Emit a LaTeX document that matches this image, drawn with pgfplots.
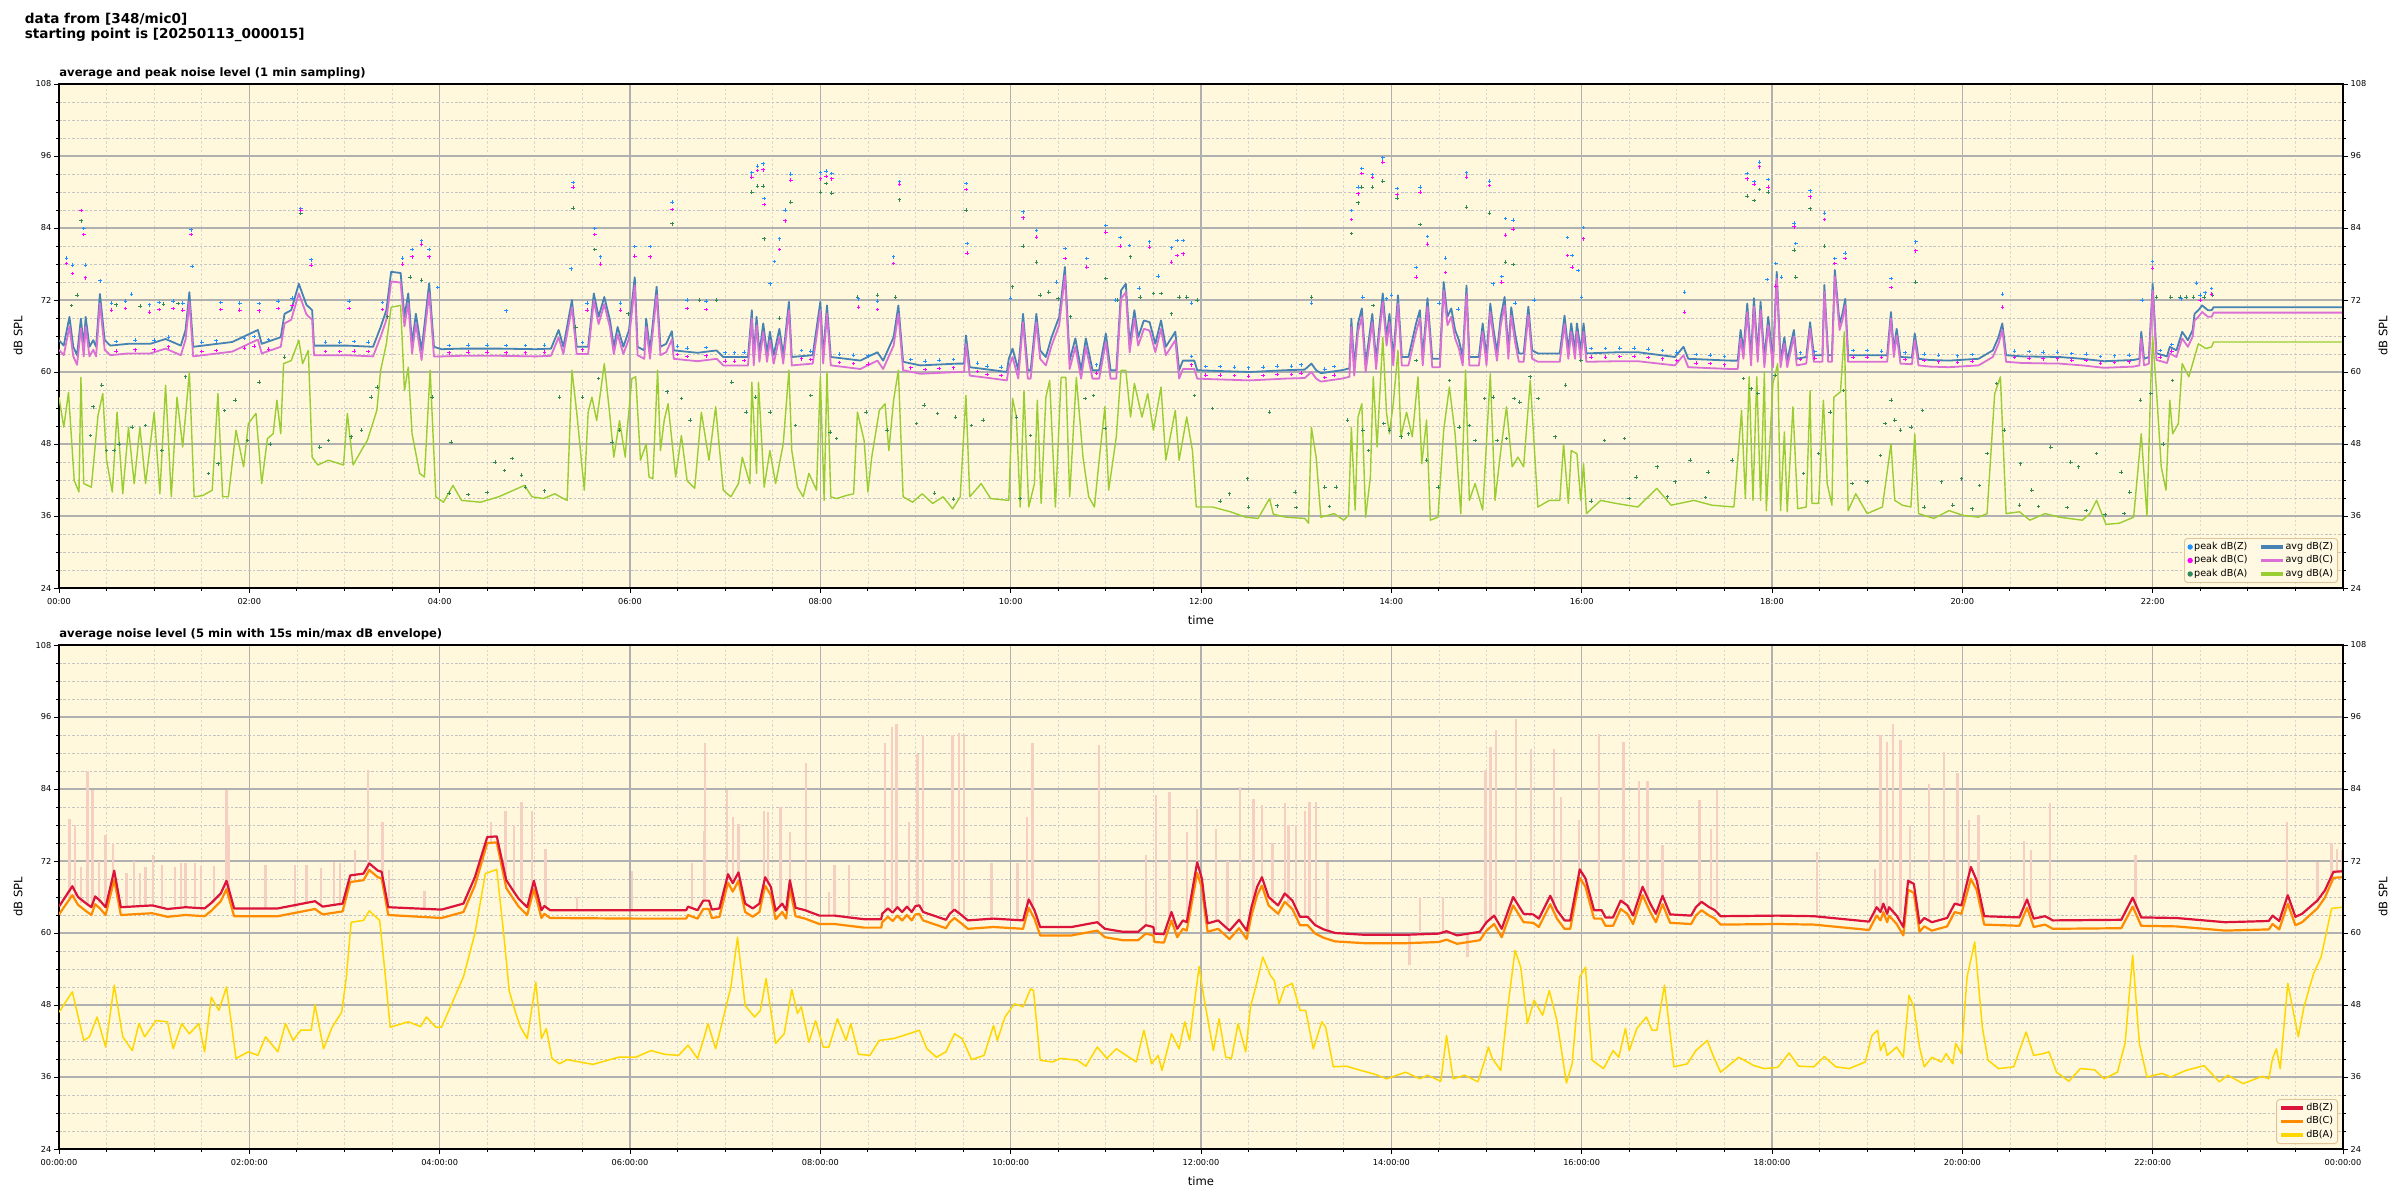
\documentclass[border=0pt]{standalone}
\usepackage{fontspec}
\setmainfont{DejaVu Sans}
\usepackage{pgfplots}
\usepackage{pgfplotstable}
\pgfplotsset{compat=1.18}
\definecolor{bgc}{HTML}{FFF8DC}
\definecolor{gridmaj}{HTML}{B0B0B0}
\definecolor{gridmin}{HTML}{C4C4C4}
\definecolor{gridminx}{HTML}{D8D8D0}
\definecolor{pz}{HTML}{1E90FF}
\definecolor{pc}{HTML}{FF00FF}
\definecolor{pa}{HTML}{2E8B57}
\definecolor{az}{HTML}{4682B4}
\definecolor{ac}{HTML}{DA70D6}
\definecolor{aa}{HTML}{9ACD32}
\definecolor{bz}{HTML}{DC143C}
\definecolor{bc}{HTML}{FF8C00}
\definecolor{ba}{HTML}{FFD700}
\definecolor{envc}{RGB}{245,208,194}
\definecolor{legedge}{RGB}{222,196,150}
\definecolor{legfill}{RGB}{255,248,226}

% ---------- top panel: 1 min averages ----------
\pgfplotstableread{
t Z C
0.00 65.3 63.7
0.05 64.4 62.8
0.11 69.2 67.6
0.15 64.2 62.6
0.19 62.8 61.2
0.23 68.9 67.3
0.26 64.2 62.6
0.28 69.2 67.6
0.32 64.2 62.6
0.36 65.3 63.7
0.39 64.2 62.6
0.43 73.0 71.4
0.48 65.3 63.7
0.54 64.4 62.8
0.73 64.7 63.1
0.96 64.7 63.1
1.12 65.5 63.9
1.28 64.4 62.8
1.33 67.0 65.4
1.37 73.3 71.7
1.41 64.2 62.6
1.82 65.0 63.4
2.09 67.0 65.4
2.13 64.7 63.1
2.33 65.8 64.2
2.37 69.7 68.1
2.44 70.3 68.7
2.52 74.7 73.1
2.60 71.2 69.6
2.66 70.3 68.7
2.68 64.4 62.8
3.03 64.4 62.8
3.30 64.2 62.6
3.38 67.5 65.9
3.44 70.3 68.7
3.49 76.7 75.1
3.59 76.5 74.9
3.63 69.2 67.6
3.67 73.1 71.5
3.71 64.7 63.1
3.75 69.7 68.1
3.81 63.6 62.0
3.89 74.8 73.2
3.94 64.2 62.6
4.02 63.8 62.6
4.23 63.9 62.7
4.62 63.9 62.7
5.01 63.8 62.6
5.17 63.9 62.7
5.25 67.0 65.8
5.30 64.2 63.0
5.39 72.0 70.8
5.44 64.2 63.0
5.56 64.2 63.0
5.62 73.1 71.9
5.67 69.2 68.0
5.73 72.5 71.3
5.79 68.6 67.4
5.83 64.2 63.0
5.87 67.5 66.3
5.93 64.2 63.0
5.99 67.0 65.6
6.05 75.8 74.4
6.08 64.2 62.8
6.15 63.6 62.2
6.17 68.9 67.5
6.21 63.6 62.2
6.28 74.2 72.8
6.32 64.2 62.8
6.38 64.7 63.3
6.44 66.8 65.4
6.46 63.6 62.2
6.71 63.2 61.8
6.91 63.6 62.2
6.98 62.5 61.1
7.24 62.5 61.1
7.28 70.3 68.9
7.30 62.5 61.1
7.33 69.2 67.8
7.36 63.1 61.7
7.40 68.1 66.7
7.44 63.1 61.7
7.47 66.7 65.3
7.51 62.8 61.4
7.57 67.2 65.8
7.61 62.8 61.4
7.67 71.7 70.3
7.70 62.5 61.1
7.92 62.8 61.4
8.00 71.7 70.3
8.03 62.8 61.4
8.07 71.1 69.7
8.11 62.5 61.1
8.27 62.2 60.8
8.42 61.9 60.5
8.60 63.3 61.9
8.66 61.9 60.5
8.77 65.8 64.4
8.82 71.1 69.7
8.87 61.7 60.3
9.05 61.1 59.7
9.44 61.4 60.0
9.51 61.4 60.0
9.53 66.1 64.7
9.57 60.8 59.4
9.82 60.3 58.9
9.96 60.0 58.6
9.98 62.2 60.8
10.02 63.9 62.5
10.08 60.3 58.9
10.13 69.7 68.3
10.18 60.3 58.9
10.21 60.3 58.9
10.27 69.7 68.3
10.31 63.6 62.2
10.37 62.5 61.1
10.43 65.8 64.4
10.51 69.2 67.8
10.57 77.5 76.1
10.62 61.9 60.5
10.68 65.6 64.2
10.74 60.3 58.9
10.79 65.6 64.2
10.86 60.3 58.9
10.93 60.3 58.9
11.00 66.4 65.0
11.05 60.3 58.9
11.11 60.3 58.9
11.16 73.6 72.2
11.21 74.7 73.3
11.25 64.7 63.3
11.30 70.3 68.9
11.34 65.8 64.4
11.40 68.6 67.2
11.46 68.3 66.9
11.52 64.7 63.3
11.58 68.6 67.2
11.63 64.2 62.8
11.73 66.7 65.3
11.77 60.3 58.9
11.81 61.9 60.5
11.93 61.9 60.5
11.96 60.3 58.9
12.12 60.2 58.8
12.51 60.0 58.6
12.89 60.3 58.9
13.09 60.4 59.0
13.16 61.4 60.0
13.21 60.3 58.9
13.26 59.8 58.4
13.48 60.3 58.9
13.56 60.6 59.2
13.58 68.9 67.5
13.61 60.8 59.4
13.65 68.1 66.7
13.69 70.6 69.2
13.73 61.4 60.0
13.80 69.7 68.3
13.84 61.9 60.5
13.87 67.0 65.6
13.91 73.1 71.7
13.95 65.8 64.4
13.98 69.7 68.3
14.02 62.5 61.1
14.07 72.8 71.4
14.11 62.5 61.1
14.18 62.5 61.1
14.26 68.1 66.7
14.30 70.3 68.9
14.33 62.5 61.1
14.38 72.3 70.9
14.43 62.2 60.8
14.51 62.2 60.8
14.55 75.0 73.6
14.59 69.2 67.8
14.63 70.6 69.2
14.67 67.0 65.6
14.71 65.3 63.9
14.75 62.5 61.1
14.79 74.4 73.0
14.82 62.5 61.1
14.92 62.5 61.1
14.96 68.1 66.7
15.00 62.5 61.1
15.04 71.4 70.0
15.07 67.5 66.1
15.11 63.3 61.9
15.15 69.2 67.8
15.19 72.5 71.1
15.23 63.6 62.2
15.26 70.8 69.4
15.30 66.4 65.0
15.34 63.1 61.7
15.39 63.1 61.7
15.44 70.9 69.5
15.48 63.6 62.2
15.54 63.1 61.7
15.77 63.1 61.7
15.82 69.4 68.0
15.86 63.6 62.2
15.89 68.1 66.7
15.93 63.6 62.2
15.95 68.1 66.7
15.99 63.6 62.2
16.02 68.1 66.7
16.05 63.1 61.7
16.40 63.3 61.8
16.59 63.3 61.8
16.98 62.5 61.1
17.07 64.2 62.8
17.12 62.2 60.8
17.56 61.9 60.5
17.64 61.9 60.5
17.67 67.0 65.6
17.70 63.6 62.2
17.74 71.4 70.0
17.78 62.5 61.1
17.81 72.3 70.9
17.85 63.1 61.7
17.88 71.7 70.3
17.92 62.2 60.8
17.96 69.2 67.8
18.01 61.9 60.8
18.05 76.7 75.6
18.09 61.9 60.8
18.13 65.8 64.7
18.16 61.9 60.8
18.23 67.0 65.9
18.26 62.2 61.1
18.36 62.5 61.4
18.40 68.3 67.2
18.44 62.8 61.7
18.53 62.8 61.7
18.55 74.5 73.4
18.59 62.8 61.7
18.63 62.8 61.7
18.66 77.0 75.9
18.71 68.1 67.0
18.74 69.7 68.6
18.77 72.2 71.1
18.80 62.8 61.7
19.08 62.8 61.7
19.21 62.8 61.7
19.25 70.0 68.9
19.28 63.6 62.5
19.31 67.2 66.1
19.35 62.5 61.4
19.47 62.4 61.3
19.50 66.4 65.3
19.54 62.2 61.1
19.66 62.0 60.9
19.86 61.9 60.8
20.17 62.2 61.1
20.32 63.6 62.5
20.38 65.8 64.7
20.42 68.1 67.0
20.46 62.8 61.7
20.63 62.6 61.5
21.02 62.5 61.4
21.26 62.2 61.1
21.49 61.8 60.7
21.80 62.0 60.9
21.86 62.2 61.1
21.88 66.7 65.6
21.91 62.2 61.1
21.96 62.5 61.4
22.00 74.7 73.6
22.04 63.1 62.0
22.11 62.8 61.7
22.15 62.6 61.5
22.18 64.2 63.1
22.25 63.6 62.5
22.31 66.7 65.6
22.37 65.3 64.2
22.42 67.0 65.9
22.44 69.7 68.6
22.48 70.3 69.2
22.52 71.1 70.0
22.58 70.3 69.2
22.62 70.3 69.2
22.64 70.8 69.9
24.00 70.8 69.9
}\topZC

\pgfplotstableread{
t A
0.00 55.8
0.05 50.8
0.10 56.6
0.16 41.9
0.21 40.0
0.23 59.1
0.26 41.4
0.34 40.8
0.41 52.8
0.46 56.4
0.50 45.3
0.56 40.0
0.61 53.3
0.67 39.7
0.73 50.8
0.79 41.4
0.85 50.8
0.91 41.4
1.00 53.3
1.06 39.7
1.12 57.8
1.18 39.2
1.24 55.8
1.30 47.5
1.37 60.0
1.42 39.2
1.51 39.4
1.61 40.3
1.67 56.4
1.72 39.2
1.78 39.2
1.86 50.3
1.94 44.2
1.99 51.4
2.07 53.1
2.13 41.4
2.19 48.9
2.25 49.7
2.29 55.3
2.33 49.7
2.36 61.4
2.44 61.9
2.52 65.3
2.56 61.4
2.62 63.6
2.66 45.8
2.72 44.5
2.83 45.3
2.99 44.5
3.03 53.1
3.09 44.5
3.18 47.0
3.24 48.6
3.34 53.6
3.38 60.3
3.44 64.7
3.49 70.8
3.59 71.1
3.63 56.9
3.67 60.8
3.71 49.7
3.79 43.1
3.84 42.5
3.90 60.3
3.96 39.2
4.04 38.3
4.14 41.1
4.23 38.6
4.43 38.3
4.62 39.2
4.82 40.6
4.89 41.1
4.97 39.2
5.09 38.9
5.21 39.7
5.30 38.9
5.34 38.6
5.39 60.3
5.44 53.3
5.52 40.3
5.56 53.3
5.60 55.8
5.65 51.9
5.73 61.4
5.79 52.5
5.83 45.8
5.89 51.9
5.95 45.8
5.97 50.3
6.02 58.9
6.06 59.2
6.11 45.3
6.17 48.0
6.20 42.5
6.24 42.2
6.29 60.3
6.32 46.9
6.36 52.0
6.40 54.7
6.48 42.5
6.54 49.4
6.60 41.9
6.68 40.6
6.75 53.3
6.83 45.3
6.90 54.2
6.98 40.3
7.06 39.2
7.14 41.4
7.18 45.8
7.26 41.4
7.28 58.3
7.33 43.1
7.35 58.3
7.41 40.8
7.47 46.9
7.53 41.4
7.61 48.0
7.67 60.3
7.70 46.9
7.76 40.8
7.82 39.2
7.88 43.1
7.96 40.3
8.00 59.2
8.04 38.6
8.07 60.0
8.11 39.2
8.17 38.9
8.27 39.4
8.35 39.7
8.39 53.3
8.46 48.6
8.50 40.0
8.54 45.8
8.62 53.6
8.68 54.7
8.72 46.9
8.77 55.3
8.82 60.3
8.87 39.2
8.97 38.3
9.07 39.7
9.18 38.1
9.29 39.2
9.39 37.2
9.47 39.2
9.53 56.1
9.57 39.2
9.69 41.4
9.79 38.9
9.98 38.6
10.02 55.6
10.06 52.5
10.10 37.5
10.14 56.9
10.19 37.5
10.25 41.4
10.28 55.3
10.32 38.1
10.37 55.8
10.41 58.6
10.47 37.5
10.53 59.1
10.58 59.1
10.62 39.2
10.69 59.1
10.76 45.8
10.82 39.2
10.88 37.5
10.93 45.3
10.99 54.2
11.03 40.3
11.11 49.2
11.16 60.3
11.21 60.3
11.26 52.5
11.30 58.1
11.38 52.5
11.44 56.4
11.50 50.3
11.58 57.5
11.63 45.3
11.73 53.6
11.77 45.3
11.85 52.5
11.91 46.9
11.95 37.5
12.12 37.5
12.31 36.7
12.47 35.8
12.60 35.6
12.72 38.9
12.76 36.3
12.89 35.8
13.09 35.6
13.13 34.8
13.16 50.8
13.21 45.8
13.23 41.7
13.26 35.8
13.40 36.4
13.50 35.3
13.55 36.1
13.58 50.8
13.62 37.0
13.65 52.5
13.69 54.7
13.73 35.8
13.78 42.5
13.81 59.2
13.85 47.5
13.91 65.8
13.95 53.1
13.98 49.7
14.02 54.7
14.07 63.6
14.10 49.2
14.16 53.3
14.22 49.2
14.28 59.2
14.32 44.7
14.37 52.0
14.41 35.3
14.49 35.8
14.55 50.3
14.61 57.5
14.67 49.7
14.73 36.4
14.78 60.3
14.82 38.6
14.88 41.4
14.96 37.0
15.04 59.7
15.09 38.6
15.15 46.9
15.21 54.2
15.27 44.2
15.33 45.8
15.39 44.2
15.46 58.6
15.54 37.5
15.66 38.6
15.77 38.6
15.81 48.0
15.86 38.1
15.89 46.9
15.95 46.4
15.99 38.6
16.02 44.7
16.05 36.4
16.20 38.6
16.36 38.1
16.59 37.5
16.79 40.6
16.94 37.8
17.18 38.6
17.37 37.8
17.60 37.5
17.63 43.3
17.68 53.6
17.72 38.9
17.76 59.2
17.80 38.6
17.84 59.2
17.88 38.6
17.92 60.0
17.94 36.9
18.01 58.1
18.06 61.4
18.09 36.9
18.13 50.0
18.16 36.7
18.22 54.2
18.27 37.2
18.36 37.5
18.40 56.9
18.42 38.1
18.49 38.1
18.54 55.3
18.58 41.4
18.63 37.8
18.65 55.8
18.72 56.7
18.76 66.7
18.80 36.9
18.88 39.7
19.00 36.4
19.16 37.5
19.25 48.0
19.29 38.6
19.37 37.8
19.46 37.5
19.50 49.7
19.54 36.4
19.70 35.6
19.86 36.9
20.01 36.1
20.17 35.8
20.26 36.4
20.34 56.4
20.40 59.2
20.46 36.4
20.60 36.7
20.71 35.3
20.87 36.4
21.02 35.8
21.26 35.3
21.34 36.4
21.41 38.6
21.51 34.6
21.65 34.8
21.80 35.8
21.88 49.7
21.94 36.0
21.98 58.1
22.00 65.8
22.04 56.9
22.09 44.2
22.14 40.3
22.18 55.3
22.21 49.7
22.27 51.4
22.31 61.4
22.38 59.2
22.44 62.5
22.48 64.7
22.56 63.9
22.62 64.2
22.64 65.0
24.00 65.0
}\topA

% ---------- top panel: 1 min peaks ----------
\pgfplotstableread{
t v
0.08 79.0
0.14 77.8
0.23 86.9
0.26 83.9
0.28 77.8
0.43 75.2
0.55 71.5
0.70 71.8
0.76 73.0
0.95 71.2
1.05 71.6
1.20 71.8
1.30 71.5
1.39 83.7
1.40 77.6
1.70 71.6
1.90 71.5
2.10 71.4
2.30 71.8
2.45 72.3
2.54 87.2
2.65 78.7
3.05 71.8
3.40 71.6
3.61 79.0
3.71 80.4
3.81 81.9
3.89 80.4
3.98 74.1
4.70 70.2
5.38 77.2
5.40 91.6
5.55 71.5
5.63 83.9
5.69 79.2
5.90 71.5
0.60 65.1
0.80 65.3
1.00 65.3
1.15 65.8
1.50 65.0
1.65 65.2
1.95 65.6
2.05 65.9
2.20 65.4
2.80 65.0
2.95 65.0
3.10 65.1
3.25 65.0
4.10 64.4
4.30 64.5
4.50 64.5
4.70 64.4
4.90 64.4
5.10 64.5
5.50 64.9
6.05 80.9
6.21 80.9
6.44 88.3
6.60 72.0
6.80 71.8
7.28 93.2
7.34 94.3
7.40 94.7
7.41 88.9
7.47 74.7
7.52 78.4
7.57 82.2
7.63 87.0
7.69 93.0
8.00 93.2
8.06 93.5
8.12 93.1
8.40 72.2
8.60 71.8
8.77 79.2
8.83 91.7
9.53 91.4
9.54 81.4
10.00 72.3
10.13 86.7
10.27 83.6
10.48 75.0
10.57 80.6
10.80 78.9
11.00 84.4
11.10 72.0
11.15 82.4
11.25 81.1
11.35 74.0
11.46 81.7
11.55 76.0
11.69 80.7
11.75 81.9
11.81 81.9
11.90 71.5
6.50 64.3
6.60 64.0
6.80 64.1
7.00 63.2
7.10 63.2
7.20 63.3
7.80 63.6
7.90 63.5
8.20 63.0
8.35 62.8
8.50 62.7
8.95 62.1
9.10 61.8
9.25 62.0
9.40 62.1
9.65 61.5
9.75 61.0
9.90 60.8
10.90 61.2
11.90 62.6
13.16 71.5
13.58 86.9
13.65 90.8
13.69 93.9
13.70 72.5
13.80 92.9
13.91 95.7
13.95 72.2
14.00 72.8
14.06 90.6
14.26 77.4
14.30 90.8
14.38 82.6
14.50 71.5
14.57 79.0
14.70 70.5
14.79 93.2
15.03 91.8
15.07 74.7
15.16 75.9
15.20 85.6
15.28 85.3
15.30 71.5
15.50 72.0
15.85 82.4
15.90 79.4
15.96 76.9
16.00 72.5
16.02 84.1
17.08 73.3
17.74 93.1
17.81 91.7
17.87 95.0
17.95 75.4
17.96 92.1
12.05 60.9
12.20 60.9
12.35 60.8
12.50 60.7
12.65 60.8
12.80 61.0
12.95 61.0
13.05 61.2
13.30 60.5
13.40 60.9
16.10 63.9
16.25 63.9
16.40 64.0
16.55 64.0
16.70 63.8
16.85 63.6
17.00 63.3
17.20 62.9
17.35 62.8
17.50 62.6
18.04 78.1
18.10 75.8
18.23 84.8
18.25 81.4
18.40 90.2
18.55 86.5
18.66 78.9
18.77 79.8
19.25 75.6
19.51 81.7
20.42 73.0
21.89 72.0
22.00 78.4
22.30 72.2
22.46 74.8
22.50 72.8
22.55 73.2
22.62 73.9
18.30 63.2
18.45 63.4
18.85 63.6
19.00 63.6
19.15 63.5
19.40 63.2
19.60 63.0
19.75 62.8
19.95 62.7
20.10 62.9
20.55 63.5
20.70 63.4
20.85 63.3
21.00 63.3
21.15 63.1
21.30 63.0
21.45 62.6
21.60 62.7
21.75 62.8
22.08 63.6
22.20 64.6
}\pZ

\pgfplotstableread{
t v
0.08 78.1
0.14 76.4
0.23 86.9
0.26 82.9
0.28 75.7
0.55 70.3
0.70 70.6
0.95 70.0
1.05 70.4
1.20 70.6
1.30 70.3
1.39 82.9
1.70 70.4
1.90 70.3
2.10 70.2
2.30 70.6
2.45 71.1
2.54 87.0
2.65 77.8
3.05 70.6
3.40 70.4
3.61 78.0
3.71 79.2
3.81 81.3
3.89 79.2
5.40 90.8
5.55 70.3
5.63 82.9
5.69 78.0
5.90 70.3
0.60 63.5
0.80 63.7
1.00 63.7
1.15 64.2
1.50 63.4
1.65 63.6
1.95 64.0
2.05 64.3
2.20 63.8
2.80 63.4
2.95 63.4
3.10 63.5
3.25 63.4
4.10 63.2
4.30 63.3
4.50 63.3
4.70 63.2
4.90 63.2
5.10 63.3
5.50 63.7
6.05 79.3
6.21 79.2
6.44 87.1
6.60 70.6
6.80 70.4
7.28 92.5
7.34 93.6
7.40 93.7
7.41 87.9
7.57 80.4
7.63 85.2
7.69 92.0
8.00 92.2
8.06 92.6
8.12 92.2
8.40 70.8
8.60 70.4
8.77 78.1
8.83 91.3
9.53 90.4
9.54 79.8
10.13 85.7
10.27 82.5
10.57 78.9
10.80 77.5
11.00 83.3
11.15 81.0
11.46 80.8
11.69 78.3
11.75 79.4
11.81 79.7
6.50 62.9
6.60 62.6
6.80 62.7
7.00 61.8
7.10 61.8
7.20 61.9
7.80 62.2
7.90 62.1
8.20 61.6
8.35 61.4
8.50 61.3
8.95 60.7
9.10 60.4
9.25 60.6
9.40 60.7
9.65 60.1
9.75 59.6
9.90 59.4
10.90 59.8
11.90 61.2
13.58 85.4
13.65 89.7
13.69 93.1
13.80 92.4
13.91 95.0
14.06 89.6
14.26 75.8
14.30 90.0
14.38 81.3
14.57 76.6
14.79 92.5
15.03 91.1
15.16 75.0
15.20 82.8
15.28 83.8
15.85 79.4
15.90 77.5
16.02 82.2
17.08 70.0
17.74 92.2
17.81 91.3
17.87 94.2
17.96 90.8
12.05 59.5
12.20 59.5
12.35 59.4
12.50 59.3
12.65 59.4
12.80 59.6
12.95 59.6
13.05 59.8
13.30 59.1
13.40 59.5
16.10 62.5
16.25 62.5
16.40 62.6
16.55 62.6
16.70 62.4
16.85 62.2
17.00 61.9
17.20 61.5
17.35 61.4
17.50 61.2
18.04 74.3
18.23 84.2
18.40 89.2
18.55 85.4
18.66 78.1
18.77 78.9
19.25 74.1
19.51 80.2
20.42 70.8
22.00 77.3
22.50 72.0
22.62 73.0
18.30 62.1
18.45 62.3
18.85 62.5
19.00 62.5
19.15 62.4
19.40 62.1
19.60 61.9
19.75 61.7
19.95 61.6
20.10 61.8
20.55 62.4
20.70 62.3
20.85 62.2
21.00 62.2
21.15 62.0
21.30 61.9
21.45 61.5
21.60 61.6
21.75 61.7
22.08 62.5
22.20 63.5
}\pC

\pgfplotstableread{
t v
0.13 71.1
0.19 72.8
0.23 85.2
0.33 49.4
0.36 54.2
0.45 57.8
0.50 46.9
0.58 46.9
0.60 71.2
0.63 48.0
0.77 50.8
0.85 71.0
0.91 51.1
1.08 46.9
1.10 71.3
1.25 71.4
1.33 59.2
1.57 43.1
1.67 44.7
1.74 53.6
1.85 55.3
1.98 48.6
2.10 58.3
2.22 48.0
2.37 62.5
2.54 86.4
2.74 47.5
2.83 48.6
3.07 49.2
3.18 50.3
3.28 55.8
3.34 57.5
3.45 69.2
3.69 75.8
3.81 75.3
3.92 55.8
4.10 39.8
4.12 48.3
4.30 39.6
4.50 39.9
4.58 45.0
4.68 43.6
4.76 45.6
4.86 42.8
4.90 40.8
5.10 40.2
5.26 55.8
5.40 87.3
5.43 67.5
5.50 55.8
5.63 80.4
5.67 58.9
5.81 48.3
5.89 50.3
5.98 69.7
6.39 56.7
6.44 84.7
6.54 55.6
6.63 52.0
6.73 72.0
6.91 72.0
7.07 58.3
7.22 53.3
7.28 90.0
7.32 55.8
7.34 91.0
7.40 91.0
7.41 82.2
7.47 53.3
7.57 69.0
7.69 88.3
7.74 51.1
7.90 56.1
8.00 90.0
8.06 91.4
8.10 50.0
8.12 89.8
8.17 48.9
8.39 72.5
8.48 53.3
8.60 72.8
8.70 50.3
8.79 72.5
8.83 88.7
9.01 51.4
9.09 54.5
9.20 39.8
9.23 53.1
9.40 38.8
9.42 52.5
9.53 87.0
9.59 51.1
9.71 52.0
10.02 74.2
10.06 52.5
10.10 38.9
10.13 81.0
10.21 49.4
10.27 78.3
10.31 72.8
10.40 73.3
10.50 72.2
10.63 69.2
10.78 55.6
10.87 56.1
10.99 50.6
11.00 75.6
11.12 72.0
11.26 79.2
11.36 72.5
11.50 73.1
11.58 73.1
11.69 69.7
11.77 72.5
11.85 72.5
11.93 56.1
11.96 72.0
12.12 53.9
12.20 38.5
12.30 39.7
12.49 42.2
12.50 37.5
12.72 53.3
12.80 37.7
12.99 40.0
13.00 37.4
13.16 72.5
13.30 40.8
13.35 37.6
13.42 40.8
13.54 52.0
13.58 83.1
13.65 88.2
13.69 90.8
13.70 50.3
13.76 46.9
13.80 90.8
13.81 71.1
13.91 91.8
13.92 51.4
13.98 50.3
14.06 89.0
14.10 49.2
14.18 49.7
14.26 61.9
14.30 84.6
14.37 45.3
14.49 40.8
14.61 58.6
14.71 50.8
14.79 87.5
14.82 51.1
14.88 48.6
14.98 55.6
15.03 86.5
15.07 55.8
15.11 48.6
15.20 78.3
15.21 48.9
15.28 77.9
15.29 55.6
15.35 55.0
15.46 59.2
15.54 55.6
15.72 49.2
15.83 57.8
15.99 61.9
16.10 38.5
16.24 48.6
16.45 48.9
16.50 38.9
16.57 42.5
16.79 44.2
16.90 39.2
16.98 41.7
17.14 45.3
17.30 39.1
17.33 43.3
17.58 45.3
17.70 58.9
17.74 89.3
17.78 57.2
17.81 88.6
17.85 56.4
17.87 90.4
17.96 90.0
18.03 59.4
18.23 80.3
18.25 75.8
18.33 43.1
18.40 87.2
18.49 46.4
18.55 81.0
18.61 53.3
18.75 56.9
18.84 41.4
19.00 41.7
19.14 46.1
19.19 51.4
19.25 55.3
19.29 52.0
19.35 50.3
19.46 50.8
19.51 75.0
19.58 53.6
19.60 37.5
19.78 41.7
19.90 37.8
19.99 42.2
20.10 37.2
20.18 41.1
20.26 46.4
20.36 58.1
20.44 50.3
20.60 37.8
20.61 44.7
20.73 40.3
20.80 37.6
20.93 47.5
21.10 37.4
21.14 45.0
21.22 44.2
21.30 36.9
21.41 46.4
21.50 36.2
21.67 43.3
21.70 36.4
21.76 40.0
21.87 55.3
21.98 56.4
22.04 72.5
22.11 48.0
22.19 72.5
22.21 58.6
22.29 72.5
22.35 72.5
22.43 72.5
22.54 72.5
22.63 72.8
}\pA

% ---------- bottom panel: 5 min averages ----------
\pgfplotstableread{
t Z C
0.00 64.4 63.1
0.14 67.8 66.3
0.20 66.0 64.7
0.28 65.0 63.7
0.34 64.3 63.0
0.38 66.1 64.8
0.43 65.4 64.1
0.49 64.3 63.0
0.58 70.4 68.9
0.65 64.3 63.0
0.98 64.6 63.3
1.14 64.0 62.7
1.33 64.3 63.0
1.53 64.1 62.8
1.60 65.0 63.7
1.70 66.6 65.3
1.76 68.7 67.3
1.84 64.1 62.8
2.30 64.1 62.8
2.69 65.3 64.0
2.77 64.4 63.1
2.98 64.9 63.6
3.06 69.6 68.5
3.20 69.9 68.8
3.26 71.6 70.5
3.35 70.4 69.3
3.39 70.2 69.1
3.46 64.3 63.0
4.02 63.9 62.5
4.25 64.9 63.5
4.37 69.3 67.9
4.50 76.0 75.0
4.60 76.1 75.1
4.70 68.8 67.5
4.77 67.1 65.8
4.83 65.7 64.4
4.92 64.3 63.0
4.99 68.7 67.3
5.07 63.8 62.5
5.10 64.5 63.2
5.16 63.8 62.5
6.04 63.8 62.4
6.59 63.8 62.4
6.61 64.4 63.0
6.71 63.8 62.4
6.77 65.4 64.0
6.83 65.4 64.0
6.86 63.9 62.5
6.94 64.1 62.7
7.03 69.8 68.4
7.08 68.3 66.9
7.14 70.1 68.7
7.21 64.9 63.5
7.29 64.1 62.7
7.36 64.9 63.5
7.42 69.3 67.9
7.48 67.7 66.3
7.53 63.7 62.3
7.60 64.9 63.5
7.64 63.8 62.4
7.68 68.8 67.4
7.74 64.2 62.8
7.84 63.8 62.4
7.99 62.9 61.5
8.15 62.9 61.5
8.30 62.6 61.2
8.46 62.3 60.9
8.64 62.3 60.9
8.65 63.2 61.8
8.71 64.1 62.7
8.76 63.4 62.0
8.81 64.3 62.9
8.86 63.5 62.1
8.91 64.4 63.0
8.96 63.5 62.1
9.00 64.5 63.1
9.04 64.6 63.2
9.08 63.5 62.1
9.32 62.2 60.8
9.36 63.2 61.8
9.41 63.9 62.5
9.49 62.9 61.5
9.55 62.1 60.7
9.82 62.4 61.0
10.13 62.1 60.7
10.19 65.6 64.2
10.25 63.8 62.4
10.31 61.0 59.6
10.64 61.0 59.6
10.91 61.8 60.4
10.99 60.7 59.3
11.18 60.2 58.8
11.34 60.2 58.8
11.42 61.3 59.9
11.50 61.0 59.6
11.51 59.9 58.5
11.61 59.8 58.4
11.69 63.5 62.1
11.75 60.7 59.3
11.81 62.1 60.7
11.85 61.8 60.4
11.96 71.8 70.0
12.01 69.0 67.5
12.04 64.9 63.5
12.07 61.6 60.2
12.18 62.1 60.7
12.30 60.4 59.0
12.40 62.2 60.8
12.48 60.4 59.0
12.53 64.3 62.9
12.59 67.7 66.3
12.64 69.3 67.9
12.71 66.0 64.6
12.81 64.6 63.2
12.88 66.6 65.2
12.96 65.4 64.0
13.04 62.7 61.3
13.12 62.7 61.3
13.20 61.3 59.9
13.29 60.6 59.2
13.41 60.0 58.6
13.72 59.7 58.3
14.15 59.7 58.3
14.50 59.9 58.5
14.58 60.3 58.9
14.69 59.6 58.2
14.93 60.2 58.8
15.00 61.8 60.4
15.08 62.9 61.5
15.16 60.7 59.3
15.28 66.0 64.6
15.39 63.2 61.8
15.49 63.1 61.7
15.55 62.4 61.0
15.67 66.2 64.8
15.74 63.8 62.4
15.82 62.1 60.7
15.88 62.1 60.7
15.98 70.6 69.2
16.04 69.1 67.7
16.13 63.8 62.4
16.21 63.8 62.4
16.25 62.6 61.2
16.33 62.6 61.2
16.41 65.4 64.0
16.48 64.6 63.2
16.54 62.9 61.5
16.64 67.7 66.3
16.72 64.9 63.5
16.78 63.2 61.8
16.85 66.2 64.8
16.93 63.1 61.7
17.15 62.9 61.5
17.20 64.3 62.9
17.26 65.2 63.8
17.34 64.3 62.9
17.40 63.8 62.4
17.46 62.8 61.4
18.06 62.9 61.5
18.44 62.8 61.4
19.02 61.9 60.5
19.10 64.3 62.9
19.14 63.5 62.1
19.17 64.9 63.5
19.21 63.2 61.8
19.23 64.3 62.9
19.31 62.9 61.5
19.38 61.0 59.6
19.43 68.7 67.2
19.49 68.2 66.7
19.55 61.6 60.2
19.60 62.5 61.1
19.68 61.8 60.4
19.84 62.5 61.1
19.92 64.9 63.5
19.99 64.6 63.2
20.09 71.0 69.0
20.15 68.8 67.2
20.23 62.8 61.4
20.60 62.6 61.2
20.64 64.1 62.7
20.68 65.6 64.2
20.75 62.4 61.0
20.87 62.8 61.4
20.95 62.1 60.7
21.67 62.2 60.8
21.79 65.9 64.4
21.88 62.6 61.2
22.25 62.5 61.1
22.76 61.8 60.4
23.22 62.0 60.6
23.26 62.9 61.5
23.33 62.0 60.6
23.42 66.3 64.9
23.50 62.7 61.3
23.57 63.2 61.8
23.73 65.4 64.1
23.81 67.1 65.9
23.90 70.2 69.2
24.00 70.3 69.3
}\botZC

\pgfplotstableread{
t A
0.00 46.8
0.14 50.2
0.26 42.1
0.32 42.7
0.40 46.0
0.49 41.0
0.58 51.3
0.67 42.7
0.77 40.4
0.84 44.9
0.90 42.7
1.02 45.4
1.14 45.2
1.20 40.7
1.29 44.9
1.37 43.2
1.47 44.9
1.53 40.2
1.60 49.3
1.68 47.1
1.76 51.0
1.86 39.1
1.99 40.2
2.09 39.6
2.17 42.7
2.30 40.2
2.38 44.9
2.46 42.1
2.54 43.8
2.65 43.8
2.69 48.0
2.78 40.7
2.87 44.3
2.97 46.8
3.02 52.7
3.07 61.8
3.20 62.1
3.26 63.7
3.37 62.1
3.43 52.7
3.48 44.3
3.67 45.2
3.80 44.4
3.86 46.0
3.96 44.3
4.02 44.3
4.25 52.7
4.37 59.9
4.48 69.9
4.60 70.6
4.68 58.8
4.73 50.4
4.79 47.1
4.85 44.3
4.92 42.4
5.01 51.8
5.07 42.4
5.12 44.1
5.18 39.1
5.26 38.2
5.34 38.9
5.61 38.1
5.88 39.3
6.06 39.3
6.22 40.4
6.36 39.8
6.51 39.6
6.61 41.3
6.71 39.1
6.77 42.1
6.82 44.9
6.90 40.7
7.00 47.1
7.06 51.0
7.13 59.3
7.21 47.9
7.31 46.0
7.37 47.1
7.43 52.4
7.53 41.6
7.62 43.2
7.70 50.6
7.76 46.6
7.80 47.7
7.88 41.8
7.95 45.4
8.03 41.0
8.09 41.0
8.18 45.7
8.27 42.1
8.32 44.9
8.40 39.8
8.52 39.6
8.62 42.1
8.77 42.4
8.93 43.2
9.04 43.8
9.12 40.7
9.22 39.3
9.32 40.2
9.41 43.2
9.49 42.4
9.59 38.9
9.72 39.6
9.82 44.6
9.86 42.1
9.94 46.0
10.04 48.2
10.13 47.7
10.21 50.7
10.24 50.4
10.31 38.8
10.44 38.5
10.52 39.1
10.70 38.8
10.79 37.8
10.91 41.0
11.01 39.1
11.11 40.7
11.32 38.5
11.40 43.8
11.48 38.2
11.55 39.6
11.59 37.1
11.69 43.2
11.77 40.7
11.83 45.2
11.88 42.1
11.98 54.4
12.03 49.3
12.13 40.4
12.19 45.7
12.26 39.3
12.32 39.1
12.39 44.9
12.47 40.2
12.52 47.7
12.58 51.3
12.65 56.0
12.73 52.9
12.77 52.1
12.82 48.2
12.88 51.0
12.96 51.6
13.04 47.1
13.10 47.1
13.18 40.7
13.27 45.2
13.31 44.3
13.39 37.7
13.53 37.8
13.68 37.1
13.84 36.4
13.95 35.7
14.15 36.8
14.30 35.7
14.38 36.3
14.52 35.3
14.58 42.9
14.65 35.7
14.77 36.3
14.91 35.2
14.97 38.2
15.02 41.0
15.06 39.1
15.15 37.1
15.22 47.1
15.30 57.1
15.36 54.3
15.43 44.9
15.50 48.8
15.59 46.3
15.66 50.4
15.74 45.4
15.84 35.0
15.90 38.2
15.98 52.7
16.04 54.3
16.11 38.8
16.23 37.4
16.33 40.4
16.39 39.3
16.46 44.1
16.50 40.4
16.58 44.1
16.68 46.0
16.74 43.8
16.79 43.8
16.87 51.3
16.97 37.7
17.11 38.2
17.20 40.4
17.32 42.1
17.38 39.6
17.46 36.8
17.65 39.3
17.81 37.9
17.92 37.4
18.06 37.6
18.18 40.0
18.28 37.8
18.44 37.7
18.55 39.4
18.67 37.7
18.81 37.4
18.98 38.5
19.05 42.9
19.11 43.8
19.14 40.4
19.18 41.8
19.21 39.6
19.31 41.0
19.38 39.3
19.44 49.6
19.49 47.7
19.55 41.0
19.60 37.7
19.68 39.3
19.78 38.5
19.83 39.9
19.90 38.2
19.93 41.6
19.99 39.9
20.05 52.7
20.13 58.5
20.21 44.3
20.27 38.8
20.38 37.4
20.54 37.7
20.62 41.3
20.67 43.5
20.75 39.6
20.85 39.9
20.91 40.2
20.99 36.8
21.12 35.3
21.24 37.4
21.39 37.2
21.49 35.7
21.63 36.8
21.71 41.6
21.79 56.3
21.86 41.6
21.94 36.0
22.10 36.6
22.19 36.0
22.35 37.1
22.54 37.9
22.70 35.2
22.79 36.3
22.95 34.9
23.15 36.1
23.22 35.7
23.26 39.1
23.30 40.7
23.34 37.4
23.42 51.6
23.53 42.7
23.59 47.7
23.69 53.2
23.77 56.0
23.88 64.1
24.00 64.3
}\botA

% 15 s min/max envelope: time, lower end, upper end of each excursion
\pgfplotstableread{
t b p
0.11 66.0 79.0
0.17 66.0 78.0
0.23 65.0 71.0
0.30 64.5 87.0
0.35 64.5 83.8
0.42 65.0 72.0
0.49 64.5 76.3
0.57 68.0 75.0
0.71 64.5 70.0
0.79 64.5 72.0
0.85 64.5 70.0
0.91 64.5 71.0
0.99 64.5 73.0
1.08 64.5 71.3
1.22 64.5 71.0
1.28 64.5 71.6
1.33 64.5 71.6
1.43 64.5 71.6
1.49 64.5 71.2
1.63 65.0 71.2
1.76 67.0 83.8
1.78 66.0 78.0
2.17 64.2 71.3
2.48 64.2 71.3
2.60 65.0 71.4
2.75 64.5 70.8
2.89 64.5 71.8
2.95 64.5 71.6
3.11 69.0 73.8
3.25 70.0 87.1
3.40 69.0 78.5
3.47 65.0 70.5
3.84 64.0 67.0
4.54 75.0 78.5
4.69 69.0 80.4
4.78 67.0 78.0
4.86 65.5 81.8
4.97 67.0 80.4
5.11 64.5 74.0
5.44 64.0 66.0
6.02 64.0 70.4
6.65 64.0 71.6
6.78 65.5 77.0
6.79 65.5 91.6
7.02 68.0 83.8
7.08 68.5 79.3
7.14 70.0 78.2
7.41 68.0 80.4
7.45 68.0 80.2
7.58 64.5 81.0
7.68 68.5 76.8
7.85 63.8 88.3
8.09 63.0 66.8
8.15 63.0 71.3
8.30 62.6 71.3
8.68 63.5 91.6
8.75 64.0 94.3
8.80 64.0 94.8
8.93 64.0 78.5
9.02 64.5 89.9
9.08 64.0 93.0
9.39 63.8 93.0
9.46 63.5 93.3
9.51 63.0 93.2
9.80 62.5 71.6
10.07 62.3 71.6
10.17 64.0 79.3
10.23 64.0 91.7
10.93 61.8 91.3
11.42 61.3 73.0
11.53 60.5 83.0
11.67 62.0 83.5
11.85 62.0 76.8
11.96 71.0 80.7
12.16 62.0 77.4
12.28 61.0 72.0
12.41 62.0 84.3
12.55 64.0 82.4
12.64 69.0 81.3
12.75 65.0 75.0
12.88 66.0 81.6
12.92 65.0 78.0
13.00 64.0 78.0
13.09 62.7 80.4
13.14 62.7 81.8
13.21 61.3 81.8
13.33 60.5 71.8
14.19 54.6 59.7
14.30 60.0 66.0
14.54 60.2 66.0
14.80 56.0 59.6
14.99 61.5 87.1
15.04 62.0 91.0
15.10 62.5 93.9
15.31 65.0 95.7
15.47 63.0 90.6
15.71 64.0 90.6
15.78 63.5 82.7
15.97 70.0 78.9
16.18 63.8 93.1
16.44 65.0 91.8
16.60 66.0 85.4
16.69 66.0 85.4
16.85 66.0 74.6
17.24 65.0 82.2
17.36 64.0 77.4
17.42 64.0 83.9
18.47 62.8 73.5
19.08 62.5 70.7
19.14 63.5 93.0
19.21 63.5 91.8
19.27 63.0 94.9
19.35 62.5 92.1
19.45 68.0 78.0
19.65 62.0 84.9
19.81 62.5 90.2
19.95 64.5 86.6
20.07 70.0 78.8
20.17 68.0 79.6
20.65 64.0 75.4
20.72 63.0 73.8
20.92 62.5 81.6
21.82 64.0 73.0
23.41 66.0 78.5
23.73 65.0 71.8
23.88 69.0 75.0
23.94 70.0 74.0
23.99 70.0 73.8
}\envT

\pgfplotsset{
  panel/.style={
    scale only axis, width=1142pt, height=252pt, anchor=south west,
    xmin=0, xmax=24, ymin=24, ymax=108,
    ytick={24,36,...,108}, minor ytick={24,27,...,108},
    minor xtick={0,0.5,...,24},
    tick align=outside, major tick length=2.6pt, minor tick length=1.5pt,
    tick style={black, line width=0.45pt},
    /pgf/number format/assume math mode=true,
    tick label style={font=\fontsize{4.1}{5}\selectfont, black},
    yticklabel style={inner sep=1pt},
    xticklabel style={inner sep=1pt, yshift=-1.6pt},
    axis line style={black, line width=0.6pt},
    grid=both,
    major grid style={draw=gridmaj, line width=0.6pt},
    minor y grid style={draw=gridmin, line width=0.35pt, dash pattern=on 1.3pt off 0.9pt},
    minor x grid style={draw=gridminx, line width=0.35pt, dash pattern=on 1.1pt off 1.1pt},
    axis background/.style={fill=bgc},
    xtick pos=left, ytick pos=left,
    xlabel={time},
    xlabel style={at={(axis description cs:0.5,0)}, anchor=center, yshift=-16pt, font=\fontsize{5.8}{7}\selectfont},
    ylabel={dB SPL},
    ylabel style={at={([xshift=-20.5pt]axis description cs:0,0.5)}, anchor=center, rotate=0, font=\fontsize{5.8}{7}\selectfont},
    title style={at={(axis description cs:0,1)}, anchor=base west, yshift=-2pt, inner sep=0pt, font=\bfseries\fontsize{5.8}{7}\selectfont},
    legend cell align=left,
    legend style={at={(axis description cs:1,0)}, anchor=south east, xshift=-2.5pt, yshift=2.5pt,
      draw=legedge, fill=legfill, rounded corners=1.5pt, line width=0.45pt,
      font=\fontsize{4.8}{5.6}\selectfont, inner xsep=1.5pt, inner ysep=1pt,
      nodes={inner sep=0.7pt}, row sep=0.2pt},
  },
  rightside/.style={
    scale only axis, width=1142pt, height=252pt, anchor=south west,
    xmin=0, xmax=24, ymin=24, ymax=108,
    hide x axis, axis y line*=right,
    ytick={24,36,...,108}, minor ytick={24,27,...,108},
    tick align=outside, major tick length=2.6pt, minor tick length=1.5pt,
    tick style={black, line width=0.45pt},
    /pgf/number format/assume math mode=true,
    tick label style={font=\fontsize{4.1}{5}\selectfont, black},
    yticklabel style={inner sep=1pt},
    axis line style={black, line width=0.6pt},
    ylabel={dB SPL},
    ylabel style={at={([xshift=20pt]axis description cs:1,0.5)}, anchor=center, font=\fontsize{5.8}{7}\selectfont},
  },
}

\begin{document}
\begin{tikzpicture}
\path[use as bounding box] (0,0) rectangle (1200pt,600pt);
\node[anchor=base west, inner sep=0pt, font=\bfseries\fontsize{6.8}{8}\selectfont] at (12.25pt,588.3pt) {data from [348/mic0]};
\node[anchor=base west, inner sep=0pt, font=\bfseries\fontsize{6.8}{8}\selectfont] at (12.25pt,580.8pt) {starting point is [20250113\_000015]};

% ===== top panel =====
\begin{axis}[panel, at={(29.5pt,306pt)},
  title={average and peak noise level (1 min sampling)},
  xtick={0,2,...,22},
  xticklabels={00:00,02:00,04:00,06:00,08:00,10:00,12:00,14:00,16:00,18:00,20:00,22:00},
  legend columns=2,
  legend style={/tikz/every even column/.append style={column sep=5pt}}]
\addplot[forget plot, only marks, mark=+, mark size=0.9pt, color=pa, mark options={line width=0.35pt}] table[x=t,y=v] {\pA};
\addplot[forget plot, only marks, mark=+, mark size=0.9pt, color=pz, mark options={line width=0.35pt}] table[x=t,y=v] {\pZ};
\addplot[forget plot, only marks, mark=+, mark size=0.9pt, color=pc, mark options={line width=0.35pt}] table[x=t,y=v] {\pC};
\addplot[forget plot, mark=none, color=aa, line width=0.7pt, line join=round] table[x=t,y=A] {\topA};
\addplot[forget plot, mark=none, color=az, line width=0.9pt, line join=round] table[x=t,y=Z] {\topZC};
\addplot[forget plot, mark=none, color=ac, line width=0.9pt, line join=round] table[x=t,y=C] {\topZC};
\addlegendimage{legend image code/.code={\fill[pz] (5.5pt,0pt) circle (1.1pt);}}
\addlegendimage{legend image code/.code={\draw[az, line width=1.6pt] (0pt,0pt) -- (11pt,0pt);}}
\addlegendimage{legend image code/.code={\fill[pc] (5.5pt,0pt) circle (1.1pt);}}
\addlegendimage{legend image code/.code={\draw[ac, line width=1.6pt] (0pt,0pt) -- (11pt,0pt);}}
\addlegendimage{legend image code/.code={\fill[pa] (5.5pt,0pt) circle (1.1pt);}}
\addlegendimage{legend image code/.code={\draw[aa, line width=1.6pt] (0pt,0pt) -- (11pt,0pt);}}
\legend{peak dB(Z), avg dB(Z), peak dB(C), avg dB(C), peak dB(A), avg dB(A)}
\end{axis}
\begin{axis}[rightside, at={(29.5pt,306pt)}]
\addplot[draw=none, mark=none] coordinates {(0,24)};
\end{axis}

% ===== bottom panel =====
\begin{axis}[panel, at={(29.5pt,25.5pt)},
  title={average noise level (5 min with 15s min/max dB envelope)},
  xtick={0,2,...,24},
  xticklabels={00:00:00,02:00:00,04:00:00,06:00:00,08:00:00,10:00:00,12:00:00,14:00:00,16:00:00,18:00:00,20:00:00,22:00:00,00:00:00}]
\addplot[forget plot, only marks, mark=*, mark size=0pt, mark options={draw=none, fill=none},
  error bars/.cd, y dir=plus, y explicit, error mark=none,
  error bar style={draw=envc, line width=1.2pt}]
  table[x=t, y=b, y error plus expr=\thisrow{p}-\thisrow{b}] {\envT};
\addplot[forget plot, mark=none, color=ba, line width=0.75pt, line join=round] table[x=t,y=A] {\botA};
\addplot[forget plot, mark=none, color=bc, line width=1.1pt, line join=round] table[x=t,y=C] {\botZC};
\addplot[forget plot, mark=none, color=bz, line width=1.1pt, line join=round] table[x=t,y=Z] {\botZC};
\addlegendimage{legend image code/.code={\draw[bz, line width=1.6pt] (0pt,0pt) -- (11pt,0pt);}}
\addlegendimage{legend image code/.code={\draw[bc, line width=1.6pt] (0pt,0pt) -- (11pt,0pt);}}
\addlegendimage{legend image code/.code={\draw[ba, line width=1.6pt] (0pt,0pt) -- (11pt,0pt);}}
\legend{dB(Z), dB(C), dB(A)}
\end{axis}
\begin{axis}[rightside, at={(29.5pt,25.5pt)}]
\addplot[draw=none, mark=none] coordinates {(0,24)};
\end{axis}
\end{tikzpicture}
\end{document}
